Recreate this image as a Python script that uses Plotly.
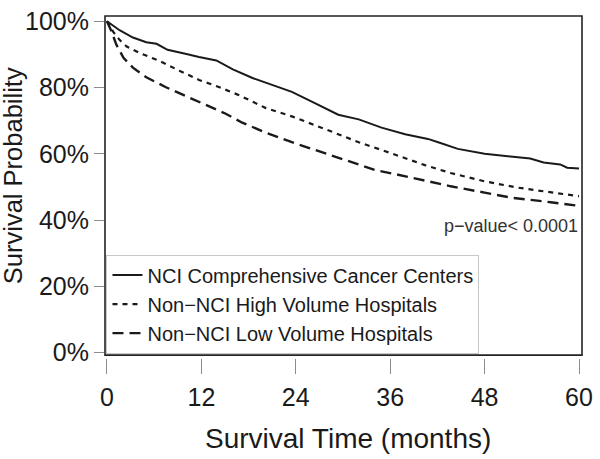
import plotly.graph_objects as go

# Kaplan-Meier curves (months, % surviving)
ccc_time = [0, 1.6, 3.3, 5.0, 6.3, 7.7, 10.1, 11.7, 13.9, 16.0, 18.5, 20.6, 23.5, 26.1,
            29.4, 32.0, 34.9, 37.9, 40.8, 42.1, 44.6, 48.0, 51.3, 53.8, 55.5, 57.6, 58.5, 60]
ccc_surv = [100, 97.3, 95.1, 93.7, 93.2, 91.4, 90.1, 89.2, 88.2, 85.5, 82.9, 81.1, 78.7, 75.7,
            71.8, 70.4, 67.9, 65.9, 64.5, 63.5, 61.5, 60.0, 59.1, 58.6, 57.4, 56.8, 55.8, 55.6]

high_time = [0, 0.8, 1.6, 2.5, 4.2, 6.7, 9.2, 11.7, 14.3, 16.8, 20.2, 23.5, 27.8, 32.0,
             36.2, 40.4, 43.7, 48.0, 52.2, 56.4, 60]
high_surv = [100, 96.8, 94.4, 92.4, 90.4, 88.0, 85.1, 82.3, 80.1, 77.7, 73.8, 71.3, 67.4, 63.5,
             60.1, 56.6, 54.2, 51.7, 49.8, 48.3, 47.2]

low_time = [0, 0.6, 1.2, 2.1, 3.3, 5.0, 7.5, 10.1, 12.6, 15.1, 17.2, 20.2, 23.5, 27.8,
            30.3, 34.1, 37.0, 40.4, 43.7, 48.0, 51.3, 56.4, 60]
low_surv = [100, 96.8, 92.9, 89.0, 86.0, 83.1, 80.1, 77.4, 74.8, 72.1, 69.4, 66.4, 63.5, 60.1,
            58.1, 55.1, 53.7, 51.9, 50.2, 48.3, 46.8, 45.4, 44.3]

group_names = [
    "NCI Comprehensive Cancer Centers",
    "Non\u2212NCI High Volume Hospitals",
    "Non\u2212NCI Low Volume Hospitals",
]

x_ticks = [0, 12, 24, 36, 48, 60]
y_ticks = [0, 20, 40, 60, 80, 100]
y_tick_labels = ["0%", "20%", "40%", "60%", "80%", "100%"]

FONT = "Liberation Sans, Arial, sans-serif"
INK = "#1a1a1a"

fig = go.Figure()
fig.add_trace(go.Scatter(x=ccc_time, y=ccc_surv, mode="lines", name=group_names[0],
                         line=dict(color=INK, width=2, dash="solid")))
fig.add_trace(go.Scatter(x=high_time, y=high_surv, mode="lines", name=group_names[1],
                         line=dict(color=INK, width=2.2, dash="5px,5px")))
fig.add_trace(go.Scatter(x=low_time, y=low_surv, mode="lines", name=group_names[2],
                         line=dict(color=INK, width=2.4, dash="11px,6px")))

y0 = 3 / 351  # bottom of the frame, a little above the detached x ticks

fig.update_layout(
    width=600,
    height=459,
    margin=dict(l=105, r=15, t=7, b=101),
    paper_bgcolor="white",
    plot_bgcolor="white",
    font=dict(family=FONT, color=INK),
    showlegend=True,
    legend=dict(
        x=1.5 / 480, y=y0 + 1.5 / 351, xanchor="left", yanchor="bottom",
        bgcolor="white", bordercolor="#c8c8c8", borderwidth=1,
        font=dict(size=20, family=FONT, color=INK),
        itemwidth=30, tracegroupgap=0,
    ),
    xaxis=dict(
        range=[-0.25, 60.38], tickvals=x_ticks, showgrid=False, zeroline=False,
        showline=False, anchor="free", position=0,
        ticks="outside", ticklen=15, tickcolor="#8c8c8c", tickwidth=1,
        tickfont=dict(size=25), ticklabelstandoff=2, ticklabeloverflow="allow",
    ),
    yaxis=dict(
        domain=[y0, 1], range=[-0.74, 101.6], tickvals=y_ticks, ticktext=y_tick_labels,
        showgrid=False, zeroline=False, showline=False,
        ticks="outside", ticklen=10, tickcolor="#8c8c8c", tickwidth=1,
        tickfont=dict(size=25), ticklabeloverflow="allow",
    ),
)

# plot frame
fig.add_shape(type="rect", xref="x domain", yref="y domain", x0=0, x1=1, y0=0, y1=1,
              line=dict(color="#222222", width=1.6), layer="above")

fig.add_annotation(text="p\u2212value< 0.0001", x=60.1, y=38.1, xref="x", yref="y",
                   xanchor="right", yanchor="middle", showarrow=False,
                   font=dict(size=18, color="#333333"))
fig.add_annotation(text="Survival Probability", x=-0.194, y=0.533, xref="paper", yref="paper",
                   xanchor="center", yanchor="middle", textangle=-90, showarrow=False,
                   font=dict(size=25.5))
fig.add_annotation(text="Survival Time (months)", x=0.51, y=-0.234, xref="paper", yref="paper",
                   xanchor="center", yanchor="middle", showarrow=False,
                   font=dict(size=28))

fig.write_html("out.html", config={"displayModeBar": False},
               post_script="document.body.style.margin = '0px';")
